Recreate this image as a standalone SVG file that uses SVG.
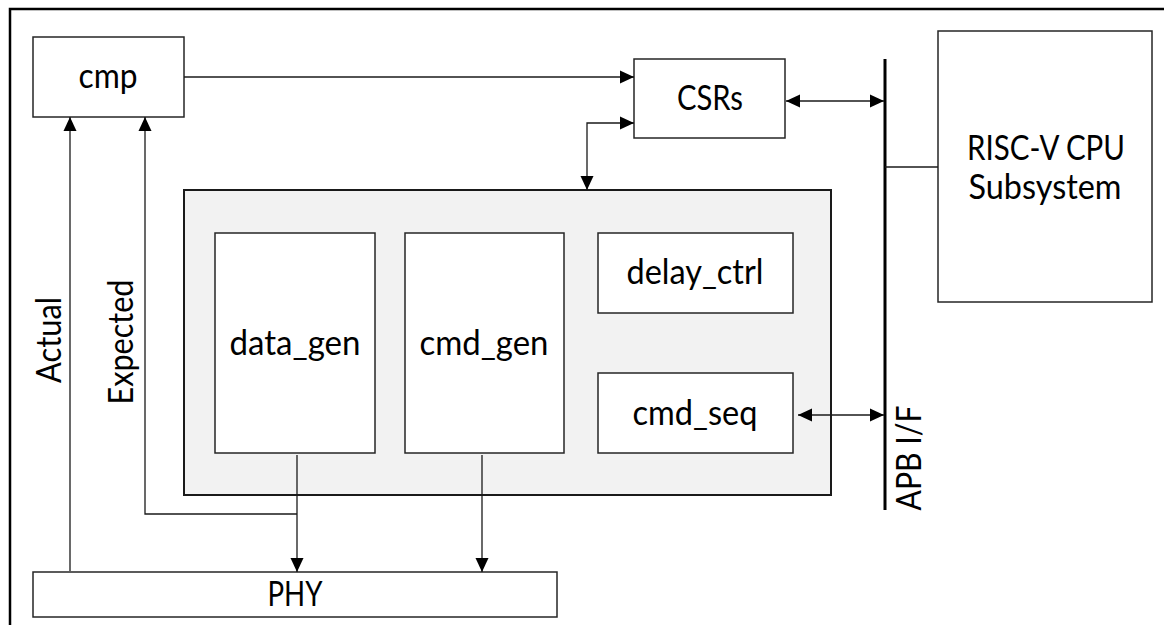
<svg xmlns="http://www.w3.org/2000/svg" width="1164" height="625" viewBox="0 0 1164 625">
  <style>
    .box { fill: #ffffff; stroke: #262626; stroke-width: 1.5; }
    .panel { fill: #f2f2f2; stroke: #1a1a1a; stroke-width: 2; }
    .wire { fill: none; stroke: #1a1a1a; stroke-width: 1.3; }
    .bus { fill: none; stroke: #000000; stroke-width: 3; }
    .lbl { font-family: Lato, "Liberation Sans", sans-serif; font-size: 34px; fill: #000000; text-anchor: middle; }
  </style>
  <defs>
    <marker id="arrow" viewBox="0 0 14 14" refX="14" refY="7" markerWidth="14" markerHeight="14" markerUnits="userSpaceOnUse" orient="auto-start-reverse">
      <path d="M0,0.5 L14,7 L0,13.5 Z" fill="#000000"/>
    </marker>
  </defs>

  <rect width="1164" height="625" fill="#ffffff"/>
  <!-- outer frame (only top and left edges fall inside the canvas) -->
  <path d="M10,626 L10,9 L1165,9" fill="none" stroke="#000000" stroke-width="2.5"/>

  <g id="cmp">
    <rect class="box" x="33" y="37" width="151" height="80"/>
    <text class="lbl" x="108" y="88" textLength="59" lengthAdjust="spacingAndGlyphs">cmp</text>
  </g>

  <g id="csrs">
    <rect class="box" x="634" y="59" width="151" height="79"/>
    <text class="lbl" x="710" y="110" textLength="66" lengthAdjust="spacingAndGlyphs">CSRs</text>
  </g>

  <g id="cpu">
    <rect class="box" x="938" y="31" width="214" height="271"/>
    <text class="lbl" x="1046" y="160" textLength="158" lengthAdjust="spacingAndGlyphs">RISC-V CPU</text>
    <text class="lbl" x="1045" y="199" textLength="153" lengthAdjust="spacingAndGlyphs">Subsystem</text>
  </g>

  <g id="controller">
    <rect class="panel" x="184" y="190" width="647" height="305"/>
  </g>

  <g id="data_gen">
    <rect class="box" x="215" y="233" width="160" height="220"/>
    <text class="lbl" x="295" y="355" textLength="131" lengthAdjust="spacingAndGlyphs">data_gen</text>
  </g>

  <g id="cmd_gen">
    <rect class="box" x="405" y="233" width="159" height="220"/>
    <text class="lbl" x="484" y="355" textLength="129" lengthAdjust="spacingAndGlyphs">cmd_gen</text>
  </g>

  <g id="delay_ctrl">
    <rect class="box" x="598" y="233" width="195" height="80"/>
    <text class="lbl" x="695" y="284" textLength="137" lengthAdjust="spacingAndGlyphs">delay_ctrl</text>
  </g>

  <g id="cmd_seq">
    <rect class="box" x="598" y="373" width="195" height="80"/>
    <text class="lbl" x="695" y="425" textLength="125" lengthAdjust="spacingAndGlyphs">cmd_seq</text>
  </g>

  <g id="phy">
    <rect class="box" x="33" y="572" width="524" height="45"/>
    <text class="lbl" x="295" y="606" textLength="55" lengthAdjust="spacingAndGlyphs">PHY</text>
  </g>

  <g id="apb">
    <line class="bus" x1="885" y1="59" x2="885" y2="510"/>
    <text class="lbl" transform="translate(921,458) rotate(-90)" textLength="105" lengthAdjust="spacingAndGlyphs">APB I/F</text>
  </g>

  <g id="connectors">
    <!-- cmp -> CSRs -->
    <line class="wire" x1="184" y1="77" x2="634" y2="77" marker-end="url(#arrow)"/>
    <!-- CSRs <-> controller panel -->
    <path class="wire" d="M587,190 L587,123 L634,123" marker-start="url(#arrow)" marker-end="url(#arrow)"/>
    <!-- CSRs <-> APB -->
    <line class="wire" x1="786" y1="101" x2="884" y2="101" marker-start="url(#arrow)" marker-end="url(#arrow)"/>
    <!-- APB - CPU subsystem -->
    <line class="wire" x1="885" y1="167" x2="938" y2="167"/>
    <!-- cmd_seq <-> APB -->
    <line class="wire" x1="798" y1="415" x2="884" y2="415" marker-start="url(#arrow)" marker-end="url(#arrow)"/>
    <!-- data_gen -> PHY, with the Expected tap back to cmp -->
    <line class="wire" x1="297" y1="455" x2="297" y2="572" marker-end="url(#arrow)"/>
    <path class="wire" d="M297,514 L145,514 L145,117" marker-end="url(#arrow)"/>
    <!-- cmd_gen -> PHY -->
    <line class="wire" x1="482" y1="455" x2="482" y2="572" marker-end="url(#arrow)"/>
    <!-- PHY -> cmp (Actual) -->
    <line class="wire" x1="70" y1="571" x2="70" y2="117" marker-end="url(#arrow)"/>
    <text class="lbl" transform="translate(61,340) rotate(-90)" textLength="86" lengthAdjust="spacingAndGlyphs">Actual</text>
    <text class="lbl" transform="translate(133,342) rotate(-90)" textLength="125" lengthAdjust="spacingAndGlyphs">Expected</text>
  </g>
</svg>
